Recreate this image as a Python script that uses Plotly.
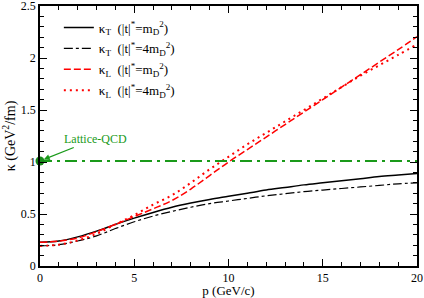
import plotly.graph_objects as go

p = list(range(0, 21))
kT_1 = [0.228, 0.24, 0.28, 0.335, 0.40, 0.46, 0.515, 0.565, 0.605, 0.64, 0.67,
        0.70, 0.73, 0.755, 0.78, 0.80, 0.82, 0.84, 0.86, 0.875, 0.89]
kT_4 = [0.193, 0.205, 0.24, 0.29, 0.36, 0.425, 0.48, 0.525, 0.565, 0.60, 0.625,
        0.65, 0.675, 0.695, 0.715, 0.73, 0.745, 0.76, 0.775, 0.79, 0.80]
kL_1 = [0.228, 0.24, 0.27, 0.33, 0.40, 0.475, 0.55, 0.63, 0.74, 0.87, 1.0,
        1.12, 1.24, 1.36, 1.48, 1.60, 1.72, 1.84, 1.96, 2.08, 2.205]
kL_4 = [0.193, 0.205, 0.245, 0.31, 0.40, 0.49, 0.59, 0.68, 0.80, 0.93, 1.05,
        1.17, 1.28, 1.39, 1.50, 1.61, 1.72, 1.83, 1.93, 2.03, 2.13]
lattice_p = [0, 20]
lattice_k = [1.01, 1.01]

names = ["κ<sub>T</sub>  (|t|<sup>*</sup>=m<sub>D</sub><sup>2</sup>)",
         "κ<sub>T</sub>  (|t|<sup>*</sup>=4m<sub>D</sub><sup>2</sup>)",
         "κ<sub>L</sub>  (|t|<sup>*</sup>=m<sub>D</sub><sup>2</sup>)",
         "κ<sub>L</sub>  (|t|<sup>*</sup>=4m<sub>D</sub><sup>2</sup>)"]

fig = go.Figure()
fig.add_trace(go.Scatter(x=p, y=kT_1, mode="lines", name=names[0], legendgroup="a",
                         line=dict(color="black", width=1.5, shape="spline")))
fig.add_trace(go.Scatter(x=p, y=kT_4, mode="lines", name=names[1], legendgroup="b",
                         line=dict(color="black", width=1.2, dash="dashdot", shape="spline")))
fig.add_trace(go.Scatter(x=p, y=kL_1, mode="lines", name=names[2], legendgroup="c",
                         line=dict(color="red", width=1.5, dash="7px,3px", shape="spline")))
fig.add_trace(go.Scatter(x=p, y=kL_4, mode="lines", name=names[3], legendgroup="d",
                         line=dict(color="red", width=2, dash="2px,4px", shape="spline")))
fig.add_trace(go.Scatter(x=lattice_p, y=lattice_k, mode="lines", showlegend=False,
                         line=dict(color="#1a9a1a", width=2, dash="12px,5px,3px,5px")))
fig.add_trace(go.Scatter(x=[lattice_p[0]], y=[lattice_k[0]], mode="markers", showlegend=False,
                         marker=dict(color="#1a8a1a", size=9), cliponaxis=False))

fig.add_annotation(x=0, y=lattice_k[0], text="Lattice-QCD", showarrow=True,
                   ax=55, ay=-22, arrowhead=2, arrowsize=1, arrowwidth=1.2,
                   arrowcolor="#1a9a1a", standoff=4,
                   font=dict(family="Liberation Serif", size=12, color="#1a9a1a"))

axis_common = dict(showline=True, linecolor="black", linewidth=1.5, mirror="ticks",
                   ticks="inside", ticklen=7, tickcolor="black", showgrid=False,
                   zeroline=False, ticklabeloverflow="allow",
                   tickfont=dict(family="Liberation Serif", size=12, color="black"))

fig.update_xaxes(range=[0, 20], dtick=5, tick0=0,
                 minor=dict(ticks="inside", dtick=1, ticklen=4, tickcolor="black"),
                 title=dict(text="p (GeV/c)", standoff=2,
                            font=dict(family="Liberation Serif", size=13, color="black")),
                 **axis_common)
fig.update_yaxes(range=[0, 2.5], dtick=0.5, tick0=0,
                 minor=dict(ticks="inside", dtick=0.1, ticklen=4, tickcolor="black"),
                 title=dict(text="κ (GeV<sup>2</sup>/fm)", standoff=6,
                            font=dict(family="Liberation Serif", size=14, color="black")),
                 **axis_common)

fig.update_layout(
    width=424, height=298,
    margin=dict(l=40, r=7, t=6, b=32, autoexpand=False),
    plot_bgcolor="white", paper_bgcolor="white",
    legend=dict(x=0.05, y=0.975, xanchor="left", yanchor="top", bgcolor="rgba(0,0,0,0)",
                font=dict(family="Liberation Serif", size=13, color="black"),
                tracegroupgap=1, itemwidth=30),
    font=dict(family="Liberation Serif"),
)

fig.write_html("out.html", config={"displayModeBar": False},
               post_script="document.body.style.margin='0';document.body.style.overflow='hidden';")
